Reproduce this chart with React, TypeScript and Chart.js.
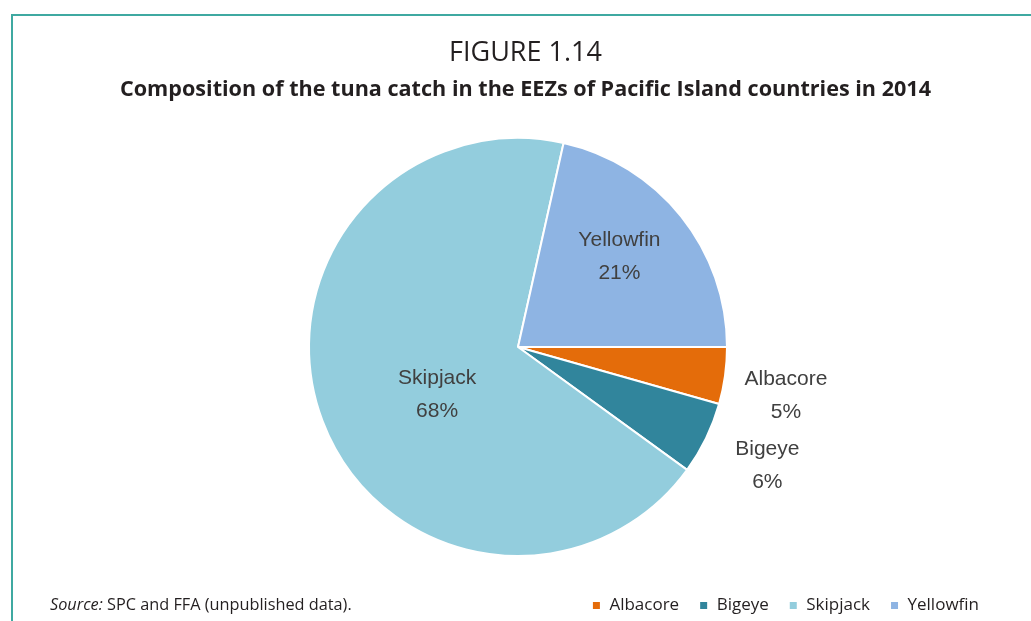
import React, { useEffect, useRef } from "react";
import { Chart, registerables } from "chart.js";

Chart.register(...registerables);

const categories = ["Albacore", "Bigeye", "Skipjack", "Yellowfin"];
const shares = [4.4, 5.6, 68.5, 21.5];
const shareLabels = ["5%", "6%", "68%", "21%"];
const sliceColors = ["#e46c0a", "#31859c", "#93cddd", "#8eb4e3"];

const figureTitle = "FIGURE 1.14";
const figureSubtitle = "Composition of the tuna catch in the EEZs of Pacific Island countries in 2014";

// label placement: radius as fraction of outer radius, angle offset in degrees
const labelPlacement = [
  { r: 1.303, da: 2.4 },
  { r: 1.321, da: -0.5 },
  { r: 0.45, da: -10 },
  { r: 0.65, da: -3 },
];

const sliceLabelPlugin = {
  id: "sliceLabels",
  afterDatasetsDraw(chart: any) {
    const meta = chart.getDatasetMeta(0);
    const ctx = chart.ctx;
    ctx.save();
    ctx.font = "21px 'Liberation Sans', Arial, sans-serif";
    ctx.fillStyle = "#404040";
    ctx.textAlign = "center";
    ctx.textBaseline = "middle";
    meta.data.forEach((arc: any, i: number) => {
      const p = arc.getProps(["x", "y", "startAngle", "endAngle", "outerRadius"], true);
      const place = labelPlacement[i];
      const mid = (p.startAngle + p.endAngle) / 2 + (place.da * Math.PI) / 180;
      const rr = p.outerRadius * place.r;
      const cx = p.x + Math.cos(mid) * rr;
      const cy = p.y + Math.sin(mid) * rr;
      ctx.fillText(categories[i], cx, cy - 16.5);
      ctx.fillText(shareLabels[i], cx, cy + 16.5);
    });
    ctx.restore();
  },
};

export default function App() {
  const canvasRef = useRef<HTMLCanvasElement | null>(null);

  useEffect(() => {
    document.body.style.margin = "0";
    const canvas = canvasRef.current;
    if (!canvas) return;
    const chart = new Chart(canvas, {
      type: "pie",
      data: {
        labels: categories,
        datasets: [
          {
            data: shares,
            backgroundColor: sliceColors,
            borderColor: "#ffffff",
            borderWidth: 2,
            radius: 209,
          } as any,
        ],
      },
      options: {
        animation: false,
        responsive: false,
        rotation: 90,
        layout: { padding: { left: 37, right: 32, top: 117, bottom: -3 } },
        plugins: {
          tooltip: { enabled: false },
          title: { display: false },
          legend: {
            display: true,
            position: "bottom",
            align: "end",
            labels: {
              boxWidth: 9,
              boxHeight: 9,
              padding: 20,
              color: "#231f20",
              font: { family: "'Open Sans', sans-serif", size: 17 },
            },
          },
        },
      },
      plugins: [sliceLabelPlugin],
    });
    return () => chart.destroy();
  }, []);

  return (
    <div style={{ position: "relative", width: 1031, height: 621, background: "#ffffff", overflow: "hidden" }}>
      <div
        style={{
          position: "absolute",
          left: 11,
          top: 14,
          right: 0,
          bottom: 0,
          borderTop: "2px solid #3fa9a1",
          borderLeft: "2px solid #3fa9a1",
        }}
      />
      <canvas ref={canvasRef} width={1031} height={621} style={{ position: "absolute", left: 0, top: 0 }} />
      <div
        style={{
          position: "absolute",
          left: 0,
          width: 1051,
          top: 35,
          lineHeight: "32px",
          textAlign: "center",
          fontFamily: "'Open Sans', sans-serif",
          fontSize: 27,
          color: "#231f20",
          whiteSpace: "nowrap",
        }}
      >
        {figureTitle}
      </div>
      <div
        style={{
          position: "absolute",
          left: 0,
          width: 1051,
          top: 75,
          lineHeight: "26px",
          textAlign: "center",
          fontFamily: "'Open Sans', sans-serif",
          fontSize: 21.6,
          fontWeight: "bold",
          color: "#231f20",
          whiteSpace: "nowrap",
        }}
      >
        {figureSubtitle}
      </div>
      <div
        style={{
          position: "absolute",
          left: 50,
          top: 593,
          fontFamily: "'Open Sans', sans-serif",
          fontSize: 16.3,
          color: "#231f20",
          whiteSpace: "nowrap",
        }}
      >
        <i>Source:</i> SPC and FFA (unpublished data).
      </div>
    </div>
  );
}
